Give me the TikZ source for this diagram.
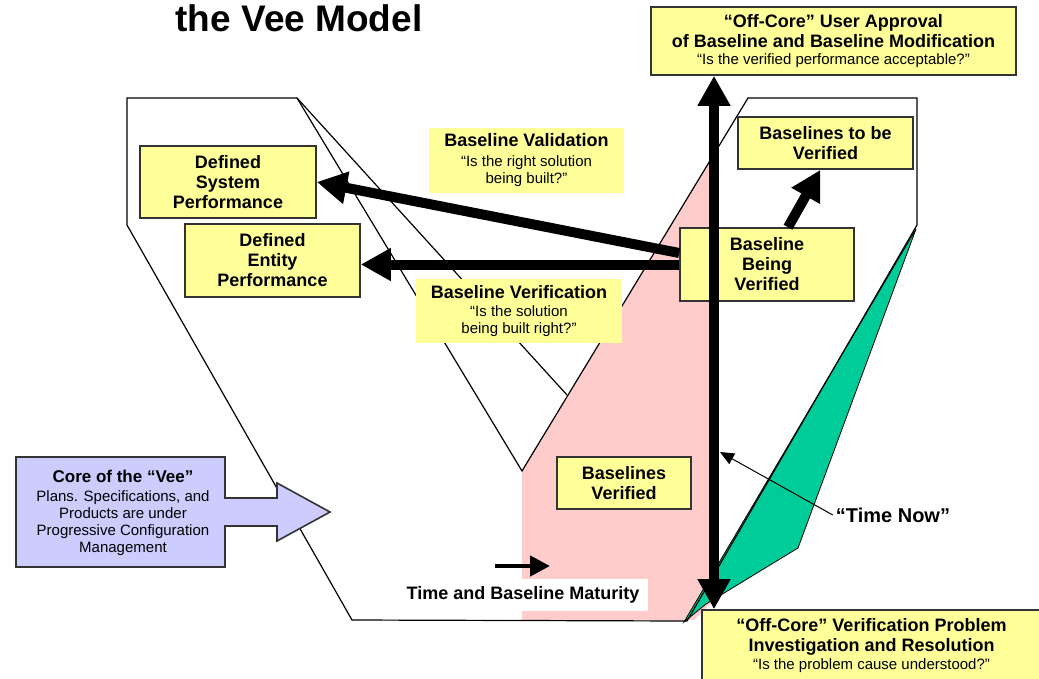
\documentclass[tikz,border=0pt]{standalone}
\usepackage{fontspec}
\setmainfont{Liberation Sans}
\usetikzlibrary{arrows.meta}
\definecolor{boxyellow}{HTML}{FFFF99}
\definecolor{corepurple}{HTML}{CCCCFF}
\definecolor{donepink}{HTML}{FFCCCC}
\definecolor{nowgreen}{HTML}{00CC99}
\definecolor{boxedge}{HTML}{333333}
\newcommand{\subline}{\mdseries\fontsize{15}{17}\selectfont}
\begin{document}
\begin{tikzpicture}[x=1pt,y=-1pt,
  hull/.style={draw=black,line width=1.2pt,line join=miter},
  ybox/.style={draw=boxedge,line width=1.6pt,fill=boxyellow,align=center,inner sep=0pt,
    font=\bfseries\fontsize{18}{20}\selectfont},
  ylabel/.style={fill=boxyellow,align=center,inner sep=0pt,
    font=\bfseries\fontsize{18}{20}\selectfont},
  fat/.style={line width=10pt,-{Triangle[width=31pt,length=30pt]}},
  fatboth/.style={line width=10pt,{Triangle[width=31pt,length=30pt]}-{Triangle[width=31pt,length=30pt]}},
  pointer/.style={line width=1pt,-{Triangle[width=12pt,length=14pt]}},
  slim/.style={line width=4.5pt,-{Triangle[width=20pt,length=20pt]}}
]
\useasboundingbox (0,0) rectangle (1039,678);
\clip (0,0) rectangle (1039,678);

% verified region and the "time now" wedge
\fill[donepink] (522,471) -- (714,154) -- (714,600) -- (694,620) -- (522,620) -- cycle;
\draw[fill=nowgreen,line width=0.8pt,line join=miter] (916,229) -- (798,548) -- (706,604) -- (684,622) -- cycle;

% outline of the Vee
\draw[hull] (127,98) -- (297,98) -- (522,471) -- (748,98) -- (917,98) -- (917,225)
  -- (687,621) -- (352,620) -- (127,225) -- cycle;
\draw[hull] (297,98) -- (567,395);

% title
\node[font=\bfseries\fontsize{37}{42}\selectfont,anchor=base] (title) at (299,31) {the Vee Model};

% core of the Vee: box with arrow
\draw[draw=boxedge,line width=1.6pt,fill=corepurple,line join=miter]
  (16,457) -- (225,457) -- (225,498) -- (277,498) -- (277,483) -- (330,512)
  -- (277,541) -- (277,526) -- (225,526) -- (225,567) -- (16,567) -- cycle;
\node[align=center,inner sep=0pt,font=\fontsize{15}{17}\selectfont] (core) at (123,513)
  {\bfseries\fontsize{17}{19}\selectfont Core of the “Vee”\\[2pt]
   Plans. Specifications, and\\ Products are under\\
   Progressive Configuration\\ Management};

% boxes
\node[ybox,minimum width=176pt,minimum height=72pt] (dsp) at (228,182)
  {Defined\\ System\\ Performance};
\node[ybox,minimum width=175pt,minimum height=73pt] (dep) at (272.5,260.5)
  {Defined\\ Entity\\ Performance};
\node[ybox,minimum width=174pt,minimum height=73pt] (bbv) at (767,264.5)
  {Baseline\\ Being\\ Verified};
\node[ybox,minimum width=175pt,minimum height=52pt] (btv) at (825.5,143)
  {Baselines to be\\ Verified};
\node[ybox,minimum width=134pt,minimum height=52pt] (bvd) at (624,483)
  {Baselines\\ Verified};
\node[ybox,minimum width=365pt,minimum height=68pt] (offt) at (833.5,41)
  {“Off-Core” User Approval\\ of Baseline and Baseline Modification\\[-3pt]
   \subline “Is the verified performance acceptable?”};
\node[ybox,minimum width=339pt,minimum height=72pt] (offb) at (871.5,646)
  {“Off-Core” Verification Problem\\ Investigation and Resolution\\[-2pt]
   \subline “Is the problem cause understood?”};

% question labels
\node[ylabel,minimum width=195pt,minimum height=65pt] (bval) at (526.5,160.5)
  {Baseline Validation\\ \subline “Is the right solution\\[-3pt] \subline being built?”};
\node[ylabel,minimum width=206pt,minimum height=64pt] (bver) at (519,311)
  {Baseline Verification\\[-2pt] \subline “Is the solution\\[-3pt] \subline being built right?”};

% time labels
\node[font=\bfseries\fontsize{20}{24}\selectfont,inner sep=3pt] (tnow) at (893,515) {“Time Now”};
\coordinate (nowtip) at (720,452);
\draw[pointer] (tnow.west) -- (nowtip);

\node[fill=white,minimum width=250pt,minimum height=32pt,inner sep=0pt,
  font=\bfseries\fontsize{18}{20}\selectfont] (mat) at (523,595) {Time and Baseline Maturity};
\coordinate (matfrom) at (495,566);
\coordinate (matto) at (550,566);
\draw[slim] (matfrom) -- (matto);

% verification and validation arrows
\draw[fat] ([yshift=11.5pt]bbv.west) -- (dsp.east);
\draw[fat] (bbv.west) -- (bbv.west -| dep.east);
\draw[fat] ([xshift=21pt]bbv.north) -- ([xshift=-5pt]btv.south);
\coordinate (vx) at (714,0);
\draw[fatboth] (offb.north -| vx) -- (offt.south -| vx);
\end{tikzpicture}
\end{document}
